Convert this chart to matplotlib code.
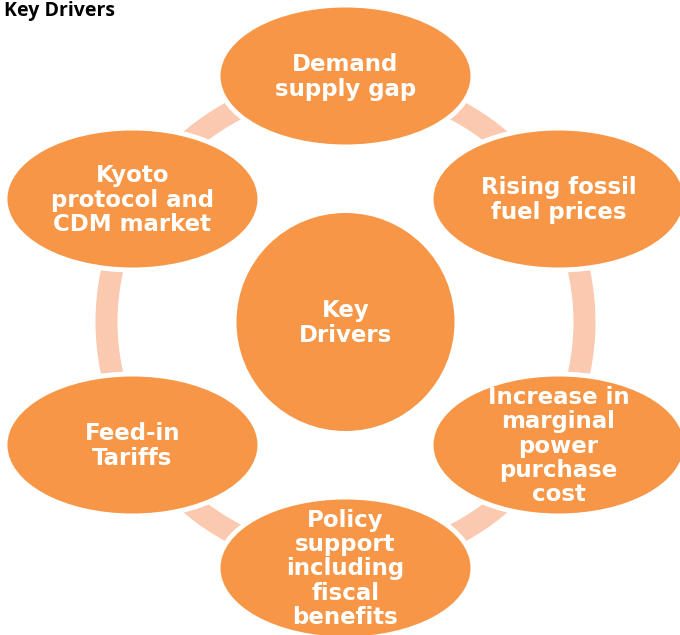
import matplotlib
matplotlib.use("Agg")
import numpy as np
import matplotlib.pyplot as plt
from matplotlib.patches import Ellipse, Circle

# diagram content
title = "Key Drivers"
hub_label = "Key\nDrivers"
node_labels = [
    "Demand\nsupply gap",
    "Rising fossil\nfuel prices",
    "Increase in\nmarginal\npower\npurchase\ncost",
    "Policy\nsupport\nincluding\nfiscal\nbenefits",
    "Feed-in\nTariffs",
    "Kyoto\nprotocol and\nCDM market",
]
node_angles = [90, 30, -30, -90, -150, 150]  # degrees, clockwise from top

orange = "#F79646"
ring_color = "#FAC9AF"

# geometry in pixels
cx, cy = 345.5, 322
orbit = 246
ring_r = 239
ring_w = 22
hub_r = 109
node_w, node_h = 250, 137
gap = 5

fig = plt.figure(figsize=(6.8, 6.35), dpi=100)
ax = fig.add_axes([0, 0, 1, 1])
ax.set_xlim(0, 680)
ax.set_ylim(635, 0)
ax.axis("off")

# light ring behind everything
ring = Circle((cx, cy), ring_r, fill=False, edgecolor=ring_color,
              linewidth=ring_w * 72 / 100, zorder=1)
ax.add_patch(ring)

# outer nodes
for label, ang in zip(node_labels, node_angles):
    a = np.radians(ang)
    x = cx + orbit * np.cos(a)
    y = cy - orbit * np.sin(a)
    ax.add_patch(Ellipse((x, y), node_w + 2 * gap, node_h + 2 * gap,
                         facecolor="white", edgecolor="none", zorder=2))
    ax.add_patch(Ellipse((x, y), node_w, node_h,
                         facecolor=orange, edgecolor="none", zorder=3))
    ax.text(x, y + 1, label, ha="center", va="center", multialignment="center",
            color="white", fontsize=16.5, fontweight="bold",
            family="DejaVu Sans", linespacing=1.08, zorder=4)

# hub
ax.add_patch(Circle((cx, cy), hub_r, facecolor=orange, edgecolor="none", zorder=3))
ax.text(cx, cy + 1, hub_label, ha="center", va="center", multialignment="center",
        color="white", fontsize=16.5, fontweight="bold",
        family="DejaVu Sans", linespacing=1.08, zorder=4)

fig.text(4 / 680, 1 - 16 / 635, title, ha="left", va="baseline",
         fontsize=14, fontweight="bold", family="Open Sans", color="black")

fig.savefig("out.png", dpi=100, facecolor="white")
